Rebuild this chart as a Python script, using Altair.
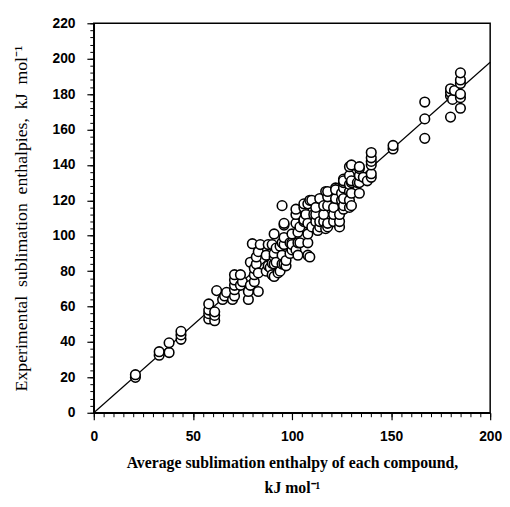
import altair as alt
import pandas as pd

# Average sublimation enthalpy of each compound (x) and experimental values (y), kJ/mol
avg_x = [21, 21, 33, 33, 38, 38, 44, 44, 44,
         58, 58, 58, 58, 61, 61, 61, 62, 65, 66, 67,
         70, 71, 71, 71, 71, 71, 74, 75, 74,
         78, 78, 79, 79, 80, 81, 81, 81, 82, 82, 83, 83, 83, 84,
         87, 87, 88, 88, 89, 90, 90, 90, 91, 91, 91, 91, 91, 92, 92, 93,
         94, 94, 95, 95, 95, 95, 96, 96, 96, 96, 96, 97, 97,
         99, 99, 100, 100, 100, 100,
         102, 102, 102, 102, 103, 103, 103, 104, 104,
         106, 106, 106, 106, 107, 108, 108, 108, 108, 108, 109, 109,
         110, 110, 111, 112, 112, 112, 113, 114, 114, 114,
         116, 116, 116, 117, 117, 118, 118, 118, 118, 118,
         121, 121, 121, 122, 122, 122, 124, 124, 124,
         125, 125, 126, 126, 126, 126, 126, 126, 126,
         129, 129, 129, 129, 129, 129, 130, 130, 130, 130, 130,
         133, 134, 134, 134, 134, 134,
         136, 138, 140, 140, 140, 140, 140, 140,
         151, 151, 167, 167, 167,
         180, 180, 180, 180, 181, 182,
         185, 185, 185, 185, 185, 185]
exp_y = [20, 21.5, 32.5, 34.5, 34, 39.5, 41.5, 44, 46,
         53, 56, 58, 61.5, 52, 55, 57, 69, 64, 66, 68,
         64, 66, 69.5, 72, 75, 78, 72, 74, 78,
         64, 68.5, 72, 85, 95.5, 74, 78, 81.5, 84, 88, 68.5, 79, 91, 95,
         80, 89, 83, 95, 82, 78, 84.5, 95, 77, 84, 88, 90, 101, 85, 93, 79,
         80, 94, 84, 89, 96, 117, 95, 99, 106, 84, 107, 83, 86,
         90, 96, 92, 96, 101, 95,
         92, 107, 112, 115, 89, 96, 102, 105, 96,
         108, 109, 116, 118, 112, 89, 96, 101, 107, 118, 88, 120,
         105, 120, 112, 108, 112, 116, 103, 105, 108, 121,
         108, 112, 117, 104, 125, 105, 107, 117, 122, 125,
         108, 112, 116, 121, 127, 126, 105, 108, 112,
         120, 124, 115, 117, 121, 127, 130, 132, 131,
         116, 120, 125, 129, 134, 139, 124, 130, 131, 140, 117,
         130, 124, 130, 134, 138, 139,
         133, 131, 133, 135, 140, 142, 144, 147,
         149, 151, 155, 166, 175.5,
         167, 179, 181, 183, 177, 182,
         172, 178, 180, 186, 188, 192]

# 1:1 reference line
line_x = [0, 200]
line_y = [0, 198]

# tick positions
x_major = [0, 50, 100, 150, 200]
x_minor = list(range(0, 201, 5))
y_major = list(range(0, 221, 20))
y_minor = list(range(0, 221, 4))

pts = pd.DataFrame({"x": avg_x, "y": exp_y})
ln = pd.DataFrame({"x": line_x, "y": line_y})

x_scale = alt.Scale(domain=[0, 200], nice=False, zero=False)
y_scale = alt.Scale(domain=[0, 220], nice=False, zero=False)

sp = "\u00a0\u00a0"

x_axis = alt.Axis(
    values=x_major, orient="bottom",
    tickSize=7, tickColor="black", tickWidth=1.2,
    domainColor="black", domainWidth=1.5,
    grid=False, labelOverlap=False,
    labelFont="Liberation Sans", labelFontWeight="bold", labelFontSize=14,
    labelColor="black", labelPadding=10, labelFlush=False,
    title=["Average sublimation enthalpy of each compound,", "kJ mol\u207b\u00b9"],
    titleFont="Liberation Serif", titleFontWeight="bold", titleFontSize=16,
    titleColor="black", titlePadding=12, titleLineHeight=25,
)
y_axis = alt.Axis(
    values=y_major, orient="left",
    tickSize=7, tickColor="black", tickWidth=1.2,
    domainColor="black", domainWidth=1.5,
    grid=False, labelOverlap=False,
    labelFont="Liberation Sans", labelFontWeight="bold", labelFontSize=14,
    labelColor="black", labelPadding=12, labelFlush=False,
    title=sp.join(["Experimental", "sublimation", "enthalpies,", "kJ", "mol\u207b\u00b9"]),
    titleFont="Liberation Serif", titleFontWeight="normal", titleFontSize=18,
    titleColor="black", titlePadding=22,
)
x_axis_minor = alt.Axis(
    values=x_minor, orient="bottom", labels=False, domain=False, grid=False,
    tickSize=4, tickColor="black", tickWidth=1, title=None,
)
y_axis_minor = alt.Axis(
    values=y_minor, orient="left", labels=False, domain=False, grid=False,
    tickSize=4, tickColor="black", tickWidth=1, title=None,
)

line = alt.Chart(ln).mark_line(color="black", strokeWidth=1.2).encode(
    x=alt.X("x:Q", scale=x_scale, axis=x_axis),
    y=alt.Y("y:Q", scale=y_scale, axis=y_axis),
)
dots = alt.Chart(pts).mark_circle(
    size=95, fill="white", stroke="black", strokeWidth=1.6, opacity=1
).encode(
    x=alt.X("x:Q", scale=x_scale, axis=x_axis_minor),
    y=alt.Y("y:Q", scale=y_scale, axis=y_axis_minor),
)

chart = (line + dots).resolve_axis(x="independent", y="independent").properties(
    width=402, height=395,
    autosize=alt.AutoSizeParams(type="none"),
    padding={"left": 87, "top": 12, "right": 12, "bottom": 88},
    background="white",
).configure_view(stroke="black", strokeWidth=1.5)

chart.save("out.html", embed_options={"renderer": "svg", "actions": False})
